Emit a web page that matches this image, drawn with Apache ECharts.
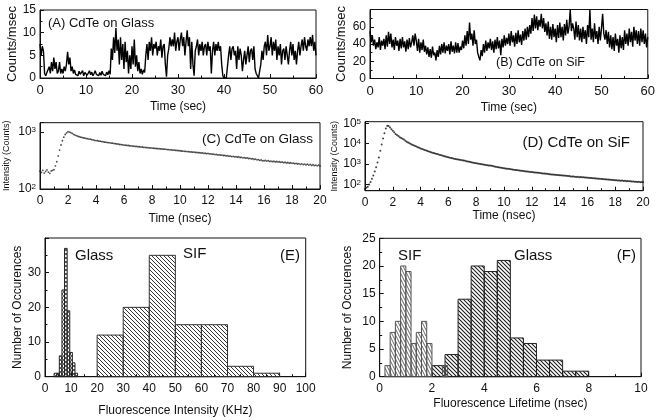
<!DOCTYPE html>
<html><head><meta charset="utf-8">
<script src="https://cdn.jsdelivr.net/npm/echarts@6/dist/echarts.min.js"></script>
<style>html,body{margin:0;padding:0;background:#fff}#c{width:658px;height:420px}</style>
</head><body><div id="c"></div>
<script>
// ---- data ----
const traceStep = 0.25; // sec
const glassTrace = [
7.5,5,7,6, 1,0.5,1.2,0.8, 2.5,1,3.5,1.5, 4.5,2,3.5,1, 1.5,3.5,1,2,
1,2.5,1.5,3, 5.8,3,4.5,1.5, 2.5,1,1.8,0.8, 1.2,0.5,1.5,0.8, 1,1.6,0.5,1.2,
1.3,0.6,1.1,1.6, 0.7,1.3,0.5,1, 1.6,0.8,1.1,0.5, 1.2,0.6,1.5,0.8, 1.1,0.5,1.3,0.7,
1.6,0.8,6.5,4, 9,5.5,11,6, 8.5,3,9,4, 7.5,2,8,3.5, 6,1,5,2,
7,3,8.5,2.5, 5,1.5,3.5,1, 2,0.8,1.8,1.2, 5,7.5,4,8, 6,9,5,7.5,
6.5,8,5,7, 6,8.5,4.5,7, 7.5,3,0.3,5, 6.5,9,7,8.5, 7,10,6,8,
9,6,8.5,10, 7,9,5,8, 10.5,7,9,2, 8,3,0.5,6, 7,8.5,5,7.5,
6,8,5,7, 7.5,5,8,6, 7,1,6,8, 5,7.5,6,8, 6,7,3,0.5,
0,0.2,0,0.3, 5,7,4,6.5, 7,5,6,2, 7,4,6.5,5, 1.5,4,6,3,
5,7,3.5,6, 6.5,4,7,2, 1,0.5,0,1.5, 3,6,4,7, 8,5,9.5,6,
7,9,5,8, 6,8.5,4,7, 5,7.5,3,6, 6.5,4,7,5, 3,6,8,5,
7.5,4,6,3, 6,8,5,7, 8.5,6,9,7, 6,8.5,7,9, 7,9.5,6,8,
5];
const sifTrace = [
55,42,50,38, 45,34,42,36, 48,33,44,38, 46,34,50,37, 54,40,52,36,
45,33,48,38, 44,32,46,35, 48,36,43,31, 45,34,47,36, 42,50,38,52,
44,32,46,30, 42,33,45,31, 38,28,36,25, 34,24,37,27, 30,21,33,25,
38,28,40,30, 42,29,38,32, 40,28,43,31, 38,29,42,30, 41,30,37,33,
44,35,50,38, 55,40,65,45, 52,38,56,40, 45,30,25,21, 33,26,40,30,
44,32,42,35, 46,33,43,30, 45,34,48,35, 44,27,46,36, 50,38,47,40,
52,38,55,42, 50,37,53,40, 56,42,51,39, 55,44,58,45, 60,48,62,52,
70,55,74,58, 72,56,68,60, 75,58,70,54, 64,50,66,46, 60,45,63,48,
58,42,62,47, 65,48,60,44, 63,50,68,52, 60,80,55,64, 58,45,66,48,
62,44,58,42, 60,46,56,40, 62,48,80,45, 58,42,64,46, 55,40,60,44,
58,75,52,45, 56,40,54,36, 50,34,48,32, 52,38,46,30, 50,35,48,33,
56,40,52,38, 58,42,54,37, 60,44,56,40, 55,38,58,42, 56,40,52,36,
48];
const decayStep = 0.1; // nsec
const glassDecay = [
205,195,212,190,203,216,198,188,207,212,
218,255,300,380,480,590,700,810,900,960,
1010,995,975,945,905,880,862,840,825,808,
800,785,782,765,762,748,745,732,728,712,
705,702,688,688,676,674,662,662,650,650,
645,638,634,626,622,614,612,602,600,594,
588,586,580,579,572,571,564,563,556,556,
550,550,543,544,536,537,530,531,525,526,
520,519,514,513,508,508,503,503,498,498,
495,491,490,485,485,479,480,474,474,469,
468,463,462,457,457,452,452,446,447,441,
443,437,438,432,433,427,428,422,423,418,
420,413,414,407,409,401,403,396,397,391,
393,386,388,380,383,375,378,370,373,366,
368,361,364,356,359,351,355,347,350,342,
345,336,340,330,334,324,328,318,322,312,
314,316,308,313,304,309,301,306,298,303,
298,300,293,297,289,294,286,291,283,288,
282,285,278,282,274,279,271,276,268,273,
264,272,262,269,259,266,257,263,255,262,
254];
const sifDecay = [
60,70,78,100,135,190,280,440,700,1200,
2100,4500,9200,18000,33000,55000,76000,73000,62000,51000,
43000,36000,30000,27000,24000,21000,19000,17500,16000,14000,
12400,11500,10500,9800,9000,8400,7800,7300,6800,6300,
5800,5500,5200,4900,4600,4400,4150,3950,3750,3550,
3400,3250,3100,2950,2800,2700,2580,2470,2360,2250,
2150,2080,2000,1930,1860,1800,1750,1700,1640,1600,
1550,1500,1450,1400,1350,1300,1260,1220,1180,1140,
1100,1070,1040,1010,985,960,940,915,895,870,
850,825,800,775,750,730,710,690,670,650,
630,615,600,590,575,560,550,535,520,510,
500,490,480,470,460,450,442,434,426,418,
410,405,394,391,380,377,366,363,352,349,
340,336,326,324,314,312,303,302,293,292,
285,283,275,275,267,267,259,259,251,251,
245,244,237,238,231,232,225,226,219,220,
215,213,207,208,201,202,196,197,191,192,
188,186,181,182,176,177,171,172,166,167,
163,162,158,159,155,156,151,152,147,149,
145,145,140,142,137,139,134,136,131,134,
130];
// histograms: bin start, bin width, counts
const intGlassStart = 3.5, intGlassWidth = 1;
const intGlassCounts = [1,1,6,25,37,19,7,4,1];
const intSifStart = 20, intSifWidth = 10;
const intSifCounts = [12,20,35,15,15,3,1];
const lifeSifStart = 0.2, lifeSifWidth = 0.2;
const lifeSifCounts = [2,8,10,20,19,6,8,10,6,0,0,2];
const lifeGlassStart = 2.0, lifeGlassWidth = 0.5;
const lifeGlassCounts = [2,4,14,20,19,21,7,6,3,3,1,1];

// ---- patterns ----
function hatch(w, h, lines, color, lw) {
  const c = document.createElement('canvas'); c.width = w; c.height = h;
  const g = c.getContext('2d'); g.strokeStyle = color; g.lineWidth = lw;
  lines.forEach(function (l) { g.beginPath(); g.moveTo(l[0], l[1]); g.lineTo(l[2], l[3]); g.stroke(); });
  return c;
}
const diag45 = (s, col, lw) => hatch(s, s, [[-s,-s,2*s,2*s],[-s,0,s,2*s],[0,-s,2*s,s]], col, lw);
const patSifE = diag45(4, '#2a2a2a', 0.95);
const patGlassF = diag45(4, '#1a1a1a', 1.05);
const patSifF = hatch(3, 6, [[0,0,3,6],[-3,0,0,6],[3,0,6,6]], '#555', 0.9);
const patGlassE = hatch(4, 4, [[-4,-4,8,8],[-4,0,4,8],[0,-4,8,4],[8,-4,-4,8],[4,-4,-4,4],[8,0,0,8]], '#333', 0.8);

const FONT = 'Liberation Sans, Arial, sans-serif';
const grids = [
  {left: 40, top: 10, width: 276, height: 68},
  {left: 370, top: 9.5, width: 278, height: 69},
  {left: 40, top: 122.7, width: 280, height: 66.3},
  {left: 365, top: 121.7, width: 278, height: 69},
  {left: 45, top: 238, width: 260.7, height: 138.7},
  {left: 379.7, top: 238.3, width: 261.3, height: 138.4}
].map(g => Object.assign({show: true, borderColor: '#111', borderWidth: 1, backgroundColor: 'transparent'}, g));

function xAx(i, min, max, interval, name, gap, fs) {
  return {type: 'value', gridIndex: i, min, max, interval, name, nameLocation: 'middle', nameGap: gap,
    nameTextStyle: {fontFamily: FONT, fontSize: 12, color: '#111'},
    axisLine: {show: true, lineStyle: {color: '#111'}},
    axisTick: {show: true, inside: true, length: 4, lineStyle: {color: '#111'}},
    minorTick: {show: true, splitNumber: 2, length: 2.5, lineStyle: {color: '#111'}},
    axisLabel: {fontFamily: FONT, fontSize: fs || 12, color: '#111', margin: 6},
    splitLine: {show: false}};
}
function yAx(i, min, max, interval, name, gap, fs, hideMax) {
  return {type: 'value', gridIndex: i, min, max, interval, name, nameLocation: 'middle', nameGap: gap,
    nameTextStyle: {fontFamily: FONT, fontSize: fs, color: '#111'},
    axisLine: {show: true, lineStyle: {color: '#111'}},
    axisTick: {show: true, inside: true, length: 4, lineStyle: {color: '#111'}},
    minorTick: {show: true, splitNumber: 2, length: 2.5, lineStyle: {color: '#111'}},
    axisLabel: {fontFamily: FONT, fontSize: 12, color: '#111', margin: 4, showMaxLabel: !hideMax},
    splitLine: {show: false}};
}
function powLabel(v) {
  const l = Math.log10(v), e = Math.round(l);
  if (Math.abs(l - e) > 1e-3) return '';
  return '10{s|' + e + '}';
}
function logAx(i, min, max, split, name, gap) {
  return {type: 'log', logBase: 10, gridIndex: i, min, max, splitNumber: split, name, nameLocation: 'middle', nameGap: gap,
    nameTextStyle: {fontFamily: FONT, fontSize: 9, color: '#111'},
    axisLine: {show: true, lineStyle: {color: '#111'}},
    axisTick: {show: true, inside: true, length: 4, lineStyle: {color: '#111'}},
    minorTick: {show: false},
    axisLabel: {fontFamily: FONT, fontSize: 12, color: '#111', margin: 4, formatter: powLabel,
      rich: {s: {fontFamily: FONT, fontSize: 8, lineHeight: 8, verticalAlign: 'top', color: '#111'}}},
    splitLine: {show: false}};
}

function histSeries(ai, start, width, counts, pattern, stroke) {
  const data = [];
  counts.forEach((c, k) => { if (c > 0) data.push([start + k * width, start + (k + 1) * width, c]); });
  return {type: 'custom', xAxisIndex: ai, yAxisIndex: ai, data, encode: {x: [0, 1], y: 2}, silent: true,
    renderItem: function (params, api) {
      const a = api.coord([api.value(0), api.value(2)]);
      const b = api.coord([api.value(1), 0]);
      return {type: 'rect', shape: {x: a[0], y: a[1], width: b[0] - a[0], height: b[1] - a[1]},
        style: {fill: {image: pattern, repeat: 'repeat'}, stroke: stroke, lineWidth: 1}};
    }};
}

const traceData = arr => arr.map((v, k) => [k * traceStep, v]);
const decayData = arr => arr.map((v, k) => [+(k * decayStep).toFixed(2), v]);

function txt(x, y, s, fs, align) {
  return {type: 'text', x, y, style: {text: s, font: fs + 'px ' + FONT, fill: '#111', textAlign: align || 'left', textVerticalAlign: 'middle'}};
}

const chart = echarts.init(document.getElementById('c'), null, {renderer: 'canvas'});
chart.setOption({
  animation: false,
  backgroundColor: '#fff',
  grid: grids,
  xAxis: [
    xAx(0, 0, 60, 10, 'Time (sec)', 23, 13),
    xAx(1, 0, 60, 10, 'Time (sec)', 23, 13),
    xAx(2, 0, 20, 2, 'Time (nsec)', 24, 12),
    xAx(3, 0, 20, 2, 'Time (nsec)', 19, 12),
    xAx(4, 0, 100, 10, 'Fluorescence Intensity (KHz)', 28, 12),
    xAx(5, 0, 10, 2, 'Fluorescence Lifetime (nsec)', 21, 12)
  ],
  yAxis: [
    yAx(0, 0, 15, 5, 'Counts/msec', 21, 13, false),
    yAx(1, 0, 80, 20, 'Counts/msec', 22, 13, true),
    logAx(2, 100, 1450, 1, 'Intensity (Counts)', 29),
    logAx(3, 50, 120000, 3, 'Intensity (Counts)', 24),
    yAx(4, 0, 40, 10, 'Number of Occurences', 20, 12, true),
    yAx(5, 0, 25, 5, 'Number of Occurences', 26, 12, false)
  ],
  series: [
    {type: 'line', xAxisIndex: 0, yAxisIndex: 0, data: traceData(glassTrace), showSymbol: false, lineStyle: {color: '#000', width: 1.4}},
    {type: 'line', xAxisIndex: 1, yAxisIndex: 1, data: traceData(sifTrace), showSymbol: false, lineStyle: {color: '#000', width: 1.4}},
    {type: 'scatter', xAxisIndex: 2, yAxisIndex: 2, data: decayData(glassDecay), symbolSize: 1.8, itemStyle: {color: '#222'}},
    {type: 'scatter', xAxisIndex: 3, yAxisIndex: 3, data: decayData(sifDecay), symbolSize: 2, itemStyle: {color: '#111'}},
    histSeries(4, intGlassStart, intGlassWidth, intGlassCounts, patGlassE, '#222'),
    histSeries(4, intSifStart, intSifWidth, intSifCounts, patSifE, '#333'),
    histSeries(5, lifeGlassStart, lifeGlassWidth, lifeGlassCounts, patGlassF, '#222'),
    histSeries(5, lifeSifStart, lifeSifWidth, lifeSifCounts, patSifF, '#555')
  ],
  graphic: [
    txt(48, 23, '(A) CdTe on Glass', 13),
    txt(496, 63, '(B) CdTe on SiF', 12.5),
    txt(313, 139, '(C) CdTe on Glass', 13.5, 'right'),
    txt(630, 143, '(D) CdTe on SiF', 15, 'right'),
    txt(75, 256, 'Glass', 15),
    txt(183, 254, 'SIF', 15),
    txt(300, 256, '(E)', 15, 'right'),
    txt(398, 256, 'SIF', 15),
    txt(514, 256, 'Glass', 15),
    txt(636, 256, '(F)', 15, 'right')
  ]
});
</script></body></html>
